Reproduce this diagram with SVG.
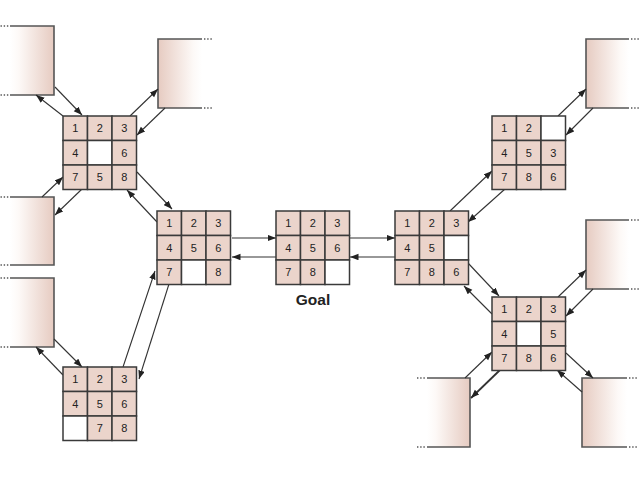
<svg xmlns="http://www.w3.org/2000/svg" width="640" height="480" viewBox="0 0 640 480">
<style>
.c{fill:#ebd4cb;stroke:#3a3a3a;stroke-width:1.5}
.e{fill:#ffffff;stroke:#3a3a3a;stroke-width:1.5}
.n{font-family:"Liberation Sans",Arial,sans-serif;font-size:11px;fill:#222;text-anchor:middle}
.g{font-family:"Liberation Sans",Arial,sans-serif;font-size:15.5px;font-weight:bold;fill:#222;text-anchor:middle}
.a{stroke:#333;stroke-width:1.1;fill:none;marker-end:url(#ah)}
.b{stroke:#555;stroke-width:1.6;fill:none}
.d{stroke:#555;stroke-width:1.4;fill:none;stroke-dasharray:1.4 1.8}
</style>
<defs>
<marker id="ah" markerUnits="userSpaceOnUse" markerWidth="9" markerHeight="7" refX="8.5" refY="3.25" orient="auto">
<path d="M0,0 L8.5,3.25 L0,6.5 z" fill="#222"/>
</marker>
<linearGradient id="gl" x1="0" y1="0" x2="1" y2="0">
<stop offset="0" stop-color="#ffffff"/>
<stop offset="0.2" stop-color="#fdf9f7"/>
<stop offset="1" stop-color="#e6cbc1"/>
</linearGradient>
<linearGradient id="gr" x1="0" y1="0" x2="1" y2="0">
<stop offset="0" stop-color="#e6cbc1"/>
<stop offset="0.8" stop-color="#fdf9f7"/>
<stop offset="1" stop-color="#ffffff"/>
</linearGradient>
</defs>

<g id="box-left-1">
<rect x="10" y="26" width="44" height="69" fill="url(#gl)"/>
<path class="b" d="M10,26 H54 V95 H10"/>
<path class="d" d="M0.5,26 H9 M0.5,95 H9"/>
</g>
<g id="box-left-2">
<rect x="10" y="197" width="44" height="68" fill="url(#gl)"/>
<path class="b" d="M10,197 H54 V265 H10"/>
<path class="d" d="M0.5,197 H9 M0.5,265 H9"/>
</g>
<g id="box-left-3">
<rect x="10" y="278" width="44" height="69" fill="url(#gl)"/>
<path class="b" d="M10,278 H54 V347 H10"/>
<path class="d" d="M0.5,278 H9 M0.5,347 H9"/>
</g>
<g id="box-top-mid">
<rect x="158" y="39" width="44" height="69" fill="url(#gr)"/>
<path class="b" d="M202,39 H158 V108 H202"/>
<path class="d" d="M204,39 H213 M204,108 H213"/>
</g>
<g id="box-right-1">
<rect x="586" y="39" width="43" height="69" fill="url(#gr)"/>
<path class="b" d="M629,39 H586 V108 H629"/>
<path class="d" d="M631,39 H640 M631,108 H640"/>
</g>
<g id="box-right-2">
<rect x="586" y="220" width="43" height="69" fill="url(#gr)"/>
<path class="b" d="M629,220 H586 V289 H629"/>
<path class="d" d="M631,220 H640 M631,289 H640"/>
</g>
<g id="box-bottom-right">
<rect x="582" y="378" width="45" height="69" fill="url(#gr)"/>
<path class="b" d="M627,378 H582 V447 H627"/>
<path class="d" d="M629,378 H638 M629,447 H638"/>
</g>
<g id="box-bottom-left">
<rect x="427" y="378" width="43" height="69" fill="url(#gl)"/>
<path class="b" d="M427,378 H470 V447 H427"/>
<path class="d" d="M417,378 H425 M417,447 H425"/>
</g>

<g id="connectors">
<line class="a" x1="55" y1="87" x2="82" y2="115"/>
<line class="a" x1="63" y1="116" x2="36" y2="95"/>
<line class="a" x1="130" y1="116" x2="158" y2="89"/>
<line class="a" x1="165" y1="108" x2="137" y2="135"/>
<line class="a" x1="42" y1="197" x2="63" y2="177"/>
<line class="a" x1="82" y1="189" x2="55" y2="215"/>
<line class="a" x1="137" y1="172" x2="172" y2="209"/>
<line class="a" x1="157" y1="222" x2="127" y2="190"/>
<line class="a" x1="123" y1="367" x2="155" y2="271"/>
<line class="a" x1="169" y1="284" x2="139" y2="379"/>
<line class="a" x1="232" y1="238" x2="276" y2="238"/>
<line class="a" x1="276" y1="257" x2="232" y2="257"/>
<line class="a" x1="350" y1="238" x2="395" y2="238"/>
<line class="a" x1="395" y1="257" x2="350" y2="257"/>
<line class="a" x1="54" y1="339" x2="82" y2="367"/>
<line class="a" x1="63" y1="375" x2="36" y2="347"/>
<line class="a" x1="450" y1="211" x2="492" y2="171"/>
<line class="a" x1="505" y1="189" x2="468" y2="222"/>
<line class="a" x1="468" y1="263" x2="499" y2="296"/>
<line class="a" x1="492" y1="314" x2="464" y2="286"/>
<line class="a" x1="558" y1="116" x2="586" y2="89"/>
<line class="a" x1="593" y1="108" x2="566" y2="135"/>
<line class="a" x1="558" y1="297" x2="586" y2="270"/>
<line class="a" x1="593" y1="289" x2="566" y2="316"/>
<line class="a" x1="465" y1="378" x2="492" y2="352"/>
<line class="a" style="stroke-width:1.8" x1="500" y1="370" x2="471" y2="398"/>
<line class="a" x1="566" y1="353" x2="593" y2="378"/>
<line class="a" x1="582" y1="392" x2="557" y2="370"/>
</g>

<g id="grid-top-left" transform="translate(63,116)">
<rect class="c" x="0" y="0" width="24.5" height="24.5"/><rect class="c" x="24.5" y="0" width="24.5" height="24.5"/><rect class="c" x="49" y="0" width="24.5" height="24.5"/>
<rect class="c" x="0" y="24.5" width="24.5" height="24.5"/><rect class="e" x="24.5" y="24.5" width="24.5" height="24.5"/><rect class="c" x="49" y="24.5" width="24.5" height="24.5"/>
<rect class="c" x="0" y="49" width="24.5" height="24.5"/><rect class="c" x="24.5" y="49" width="24.5" height="24.5"/><rect class="c" x="49" y="49" width="24.5" height="24.5"/>
<text class="n" x="12.25" y="16.2">1</text><text class="n" x="36.75" y="16.2">2</text><text class="n" x="61.25" y="16.2">3</text>
<text class="n" x="12.25" y="40.7">4</text><text class="n" x="61.25" y="40.7">6</text>
<text class="n" x="12.25" y="65.2">7</text><text class="n" x="36.75" y="65.2">5</text><text class="n" x="61.25" y="65.2">8</text>
</g>

<g id="grid-mid-left" transform="translate(157,211)">
<rect class="c" x="0" y="0" width="24.5" height="24.5"/><rect class="c" x="24.5" y="0" width="24.5" height="24.5"/><rect class="c" x="49" y="0" width="24.5" height="24.5"/>
<rect class="c" x="0" y="24.5" width="24.5" height="24.5"/><rect class="c" x="24.5" y="24.5" width="24.5" height="24.5"/><rect class="c" x="49" y="24.5" width="24.5" height="24.5"/>
<rect class="c" x="0" y="49" width="24.5" height="24.5"/><rect class="e" x="24.5" y="49" width="24.5" height="24.5"/><rect class="c" x="49" y="49" width="24.5" height="24.5"/>
<text class="n" x="12.25" y="16.2">1</text><text class="n" x="36.75" y="16.2">2</text><text class="n" x="61.25" y="16.2">3</text>
<text class="n" x="12.25" y="40.7">4</text><text class="n" x="36.75" y="40.7">5</text><text class="n" x="61.25" y="40.7">6</text>
<text class="n" x="12.25" y="65.2">7</text><text class="n" x="61.25" y="65.2">8</text>
</g>

<g id="grid-goal" transform="translate(276,211)">
<rect class="c" x="0" y="0" width="24.5" height="24.5"/><rect class="c" x="24.5" y="0" width="24.5" height="24.5"/><rect class="c" x="49" y="0" width="24.5" height="24.5"/>
<rect class="c" x="0" y="24.5" width="24.5" height="24.5"/><rect class="c" x="24.5" y="24.5" width="24.5" height="24.5"/><rect class="c" x="49" y="24.5" width="24.5" height="24.5"/>
<rect class="c" x="0" y="49" width="24.5" height="24.5"/><rect class="c" x="24.5" y="49" width="24.5" height="24.5"/><rect class="e" x="49" y="49" width="24.5" height="24.5"/>
<text class="n" x="12.25" y="16.2">1</text><text class="n" x="36.75" y="16.2">2</text><text class="n" x="61.25" y="16.2">3</text>
<text class="n" x="12.25" y="40.7">4</text><text class="n" x="36.75" y="40.7">5</text><text class="n" x="61.25" y="40.7">6</text>
<text class="n" x="12.25" y="65.2">7</text><text class="n" x="36.75" y="65.2">8</text>
<text class="g" x="37" y="94">Goal</text>
</g>

<g id="grid-mid-right" transform="translate(395,211)">
<rect class="c" x="0" y="0" width="24.5" height="24.5"/><rect class="c" x="24.5" y="0" width="24.5" height="24.5"/><rect class="c" x="49" y="0" width="24.5" height="24.5"/>
<rect class="c" x="0" y="24.5" width="24.5" height="24.5"/><rect class="c" x="24.5" y="24.5" width="24.5" height="24.5"/><rect class="e" x="49" y="24.5" width="24.5" height="24.5"/>
<rect class="c" x="0" y="49" width="24.5" height="24.5"/><rect class="c" x="24.5" y="49" width="24.5" height="24.5"/><rect class="c" x="49" y="49" width="24.5" height="24.5"/>
<text class="n" x="12.25" y="16.2">1</text><text class="n" x="36.75" y="16.2">2</text><text class="n" x="61.25" y="16.2">3</text>
<text class="n" x="12.25" y="40.7">4</text><text class="n" x="36.75" y="40.7">5</text>
<text class="n" x="12.25" y="65.2">7</text><text class="n" x="36.75" y="65.2">8</text><text class="n" x="61.25" y="65.2">6</text>
</g>

<g id="grid-top-right" transform="translate(492,116)">
<rect class="c" x="0" y="0" width="24.5" height="24.5"/><rect class="c" x="24.5" y="0" width="24.5" height="24.5"/><rect class="e" x="49" y="0" width="24.5" height="24.5"/>
<rect class="c" x="0" y="24.5" width="24.5" height="24.5"/><rect class="c" x="24.5" y="24.5" width="24.5" height="24.5"/><rect class="c" x="49" y="24.5" width="24.5" height="24.5"/>
<rect class="c" x="0" y="49" width="24.5" height="24.5"/><rect class="c" x="24.5" y="49" width="24.5" height="24.5"/><rect class="c" x="49" y="49" width="24.5" height="24.5"/>
<text class="n" x="12.25" y="16.2">1</text><text class="n" x="36.75" y="16.2">2</text>
<text class="n" x="12.25" y="40.7">4</text><text class="n" x="36.75" y="40.7">5</text><text class="n" x="61.25" y="40.7">3</text>
<text class="n" x="12.25" y="65.2">7</text><text class="n" x="36.75" y="65.2">8</text><text class="n" x="61.25" y="65.2">6</text>
</g>

<g id="grid-bottom-right" transform="translate(492,297)">
<rect class="c" x="0" y="0" width="24.5" height="24.5"/><rect class="c" x="24.5" y="0" width="24.5" height="24.5"/><rect class="c" x="49" y="0" width="24.5" height="24.5"/>
<rect class="c" x="0" y="24.5" width="24.5" height="24.5"/><rect class="e" x="24.5" y="24.5" width="24.5" height="24.5"/><rect class="c" x="49" y="24.5" width="24.5" height="24.5"/>
<rect class="c" x="0" y="49" width="24.5" height="24.5"/><rect class="c" x="24.5" y="49" width="24.5" height="24.5"/><rect class="c" x="49" y="49" width="24.5" height="24.5"/>
<text class="n" x="12.25" y="16.2">1</text><text class="n" x="36.75" y="16.2">2</text><text class="n" x="61.25" y="16.2">3</text>
<text class="n" x="12.25" y="40.7">4</text><text class="n" x="61.25" y="40.7">5</text>
<text class="n" x="12.25" y="65.2">7</text><text class="n" x="36.75" y="65.2">8</text><text class="n" x="61.25" y="65.2">6</text>
</g>

<g id="grid-bottom-left" transform="translate(63,367)">
<rect class="c" x="0" y="0" width="24.5" height="24.5"/><rect class="c" x="24.5" y="0" width="24.5" height="24.5"/><rect class="c" x="49" y="0" width="24.5" height="24.5"/>
<rect class="c" x="0" y="24.5" width="24.5" height="24.5"/><rect class="c" x="24.5" y="24.5" width="24.5" height="24.5"/><rect class="c" x="49" y="24.5" width="24.5" height="24.5"/>
<rect class="e" x="0" y="49" width="24.5" height="24.5"/><rect class="c" x="24.5" y="49" width="24.5" height="24.5"/><rect class="c" x="49" y="49" width="24.5" height="24.5"/>
<text class="n" x="12.25" y="16.2">1</text><text class="n" x="36.75" y="16.2">2</text><text class="n" x="61.25" y="16.2">3</text>
<text class="n" x="12.25" y="40.7">4</text><text class="n" x="36.75" y="40.7">5</text><text class="n" x="61.25" y="40.7">6</text>
<text class="n" x="36.75" y="65.2">7</text><text class="n" x="61.25" y="65.2">8</text>
</g>
</svg>
